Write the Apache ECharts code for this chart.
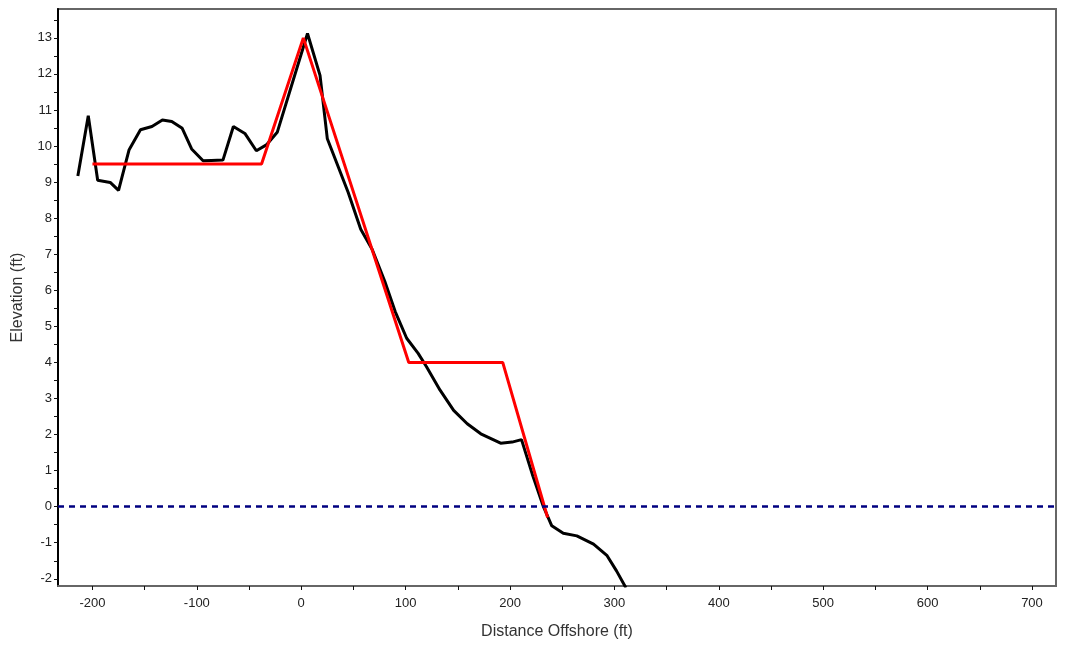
<!DOCTYPE html>
<html>
<head>
<meta charset="utf-8">
<title>Profile</title>
<script src="https://cdn.jsdelivr.net/npm/echarts@6/dist/echarts.min.js"></script>
<style>
  html, body { margin: 0; padding: 0; background: #fff; }
  #chart { width: 1066px; height: 652px; }
</style>
</head>
<body>
<div id="chart"></div>
<script>
// surveyed profile (distance offshore ft, elevation ft)
const profileX = [-214, -204, -195, -183, -175, -165, -154, -143, -133, -124, -114, -105, -94, -86, -75, -65, -54, -43, -33, -23, 6,
    18, 25, 45, 57, 68, 80, 90, 101, 112, 120, 133, 146, 159, 172, 191, 202, 211, 222, 232, 240, 251, 264, 280, 293, 302, 311];
const profileY = [9.17, 10.84, 9.05, 8.99, 8.77, 9.89, 10.45, 10.54, 10.72, 10.68, 10.49, 9.92, 9.59, 9.6, 9.61, 10.54, 10.35, 9.87, 10.04, 10.38, 13.12,
    11.96, 10.2, 8.71, 7.69, 7.13, 6.25, 5.41, 4.67, 4.25, 3.88, 3.23, 2.67, 2.3, 2.02, 1.76, 1.79, 1.86, 0.84, 0.0, -0.53, -0.74, -0.81, -1.04, -1.36, -1.78, -2.25];

// design template
const designX = [-200, -38, 2, 103, 193, 236];
const designY = [9.5, 9.5, 13, 4, 4, -0.3];

const xTicks = [-200, -150, -100, -50, 0, 50, 100, 150, 200, 250, 300, 350, 400, 450, 500, 550, 600, 650, 700];
const xLabels = [-200, -100, 0, 100, 200, 300, 400, 500, 600, 700];
const yTicks = [-2, -1.5, -1, -0.5, 0, 0.5, 1, 1.5, 2, 2.5, 3, 3.5, 4, 4.5, 5, 5.5, 6, 6.5, 7, 7.5, 8, 8.5, 9, 9.5, 10, 10.5, 11, 11.5, 12, 12.5, 13, 13.5];
const yLabels = [-2, -1, 0, 1, 2, 3, 4, 5, 6, 7, 8, 9, 10, 11, 12, 13];

function zip(xs, ys) {
    return xs.map(function (x, i) { return [x, ys[i]]; });
}

const chart = echarts.init(document.getElementById('chart'));

const option = {
    animation: false,
    textStyle: { fontFamily: 'Liberation Sans, Arial, sans-serif' },
    grid: {
        left: 58, right: 10, top: 9, bottom: 66,
        show: true,
        borderColor: '#666',
        borderWidth: 2
    },
    xAxis: {
        type: 'value',
        min: -233,
        max: 723,
        name: 'Distance Offshore (ft)',
        nameLocation: 'middle',
        nameGap: 38,
        nameTextStyle: { fontSize: 16, color: '#333' },
        axisLine: { onZero: false, lineStyle: { color: '#666', width: 2 } },
        axisTick: { show: true, length: 4, customValues: xTicks, lineStyle: { color: '#111' } },
        axisLabel: { customValues: xLabels, fontSize: 13, color: '#222', margin: 11 },
        splitLine: { show: false }
    },
    yAxis: {
        type: 'value',
        min: -2.2,
        max: 13.8,
        name: 'Elevation (ft)',
        nameLocation: 'middle',
        nameGap: 32,
        nameTextStyle: { fontSize: 16, color: '#333' },
        axisLine: { show: true, onZero: false, lineStyle: { color: '#000', width: 2 } },
        axisTick: { show: true, length: 4, customValues: yTicks, lineStyle: { color: '#111' } },
        axisLabel: { customValues: yLabels, fontSize: 13, color: '#222', margin: 6 },
        splitLine: { show: false }
    },
    series: [
        {
            name: 'Profile',
            type: 'line',
            data: zip(profileX, profileY),
            showSymbol: false,
            clip: true,
            lineStyle: { color: '#000', width: 3 },
            z: 3,
            markLine: {
                silent: true,
                symbol: 'none',
                label: { show: false },
                lineStyle: { color: '#000080', type: [6, 5], width: 2.5 },
                data: [{ yAxis: 0 }]
            }
        },
        {
            name: 'Design',
            type: 'line',
            data: zip(designX, designY),
            showSymbol: false,
            clip: true,
            lineStyle: { color: '#ff0000', width: 3 },
            z: 4
        }
    ]
};
chart.setOption(option);
</script>
</body>
</html>
